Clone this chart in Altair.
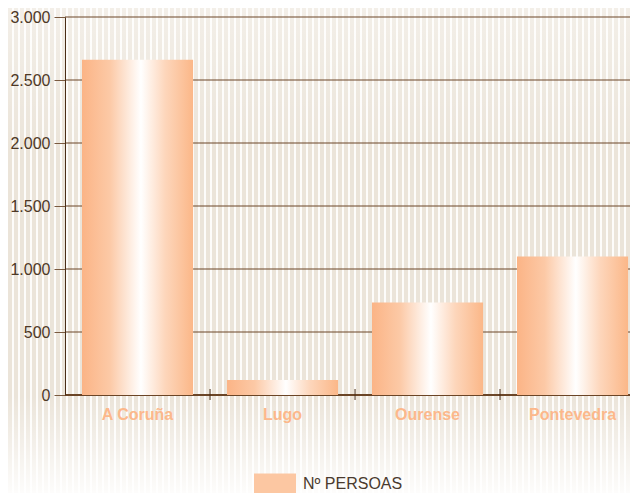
import altair as alt
import pandas as pd

provincias = ["A Coruña", "Lugo", "Ourense", "Pontevedra"]
persoas = [2660, 120, 735, 1100]
y_ticks = [0, 500, 1000, 1500, 2000, 2500, 3000]
serie = ["Nº PERSOAS"]

W, H = 565, 378
PL, PT, PB = 57, 9, 98
FONT = "Liberation Sans"

bars_df = pd.DataFrame({"provincia": provincias, "persoas": persoas})
grid_df = pd.DataFrame({"persoas": y_ticks})
tick_df = pd.DataFrame({"provincia": provincias})
legend_df = pd.DataFrame({"serie": serie})
one_df = pd.DataFrame({"k": [0]})

# striped background gradient
TOT = W + PL
beige, white = "#ebe4d9", "#fdfcfa"
stops = []
n = TOT // 6 + 1
for k in range(n):
    s = min(1.0, k * 6 / TOT)
    a = min(1.0, (k * 6 + 4) / TOT)
    e = min(1.0, (k * 6 + 6) / TOT)
    stops += [alt.GradientStop(offset=s, color=beige), alt.GradientStop(offset=a, color=beige),
              alt.GradientStop(offset=a, color=white), alt.GradientStop(offset=e, color=white)]
stripes = alt.Gradient(gradient="linear", stops=stops, x1=0, x2=1, y1=0, y2=0)
fade = alt.Gradient(gradient="linear", x1=0, x2=0, y1=0, y2=1, stops=[
    alt.GradientStop(offset=0, color="rgba(255,255,255,0.4)"),
    alt.GradientStop(offset=0.3, color="rgba(255,255,255,0)"),
    alt.GradientStop(offset=0.8, color="rgba(255,255,255,0)"),
    alt.GradientStop(offset=0.88, color="rgba(255,255,255,0.35)"),
    alt.GradientStop(offset=1, color="rgba(255,255,255,0.9)"),
])
bar_grad = alt.Gradient(gradient="linear", x1=0, x2=1, y1=0, y2=0, stops=[
    alt.GradientStop(offset=0, color="#fbb486"),
    alt.GradientStop(offset=0.25, color="#fcc9a6"),
    alt.GradientStop(offset=0.53, color="#ffffff"),
    alt.GradientStop(offset=0.75, color="#fdd6bb"),
    alt.GradientStop(offset=1, color="#fbb788"),
])

bg = alt.Chart(one_df).mark_rect(fill=stripes).encode(
    x=alt.value(-PL), x2=alt.value(W), y=alt.value(-PT), y2=alt.value(H + PB))
bg2 = alt.Chart(one_df).mark_rect(fill=fade).encode(
    x=alt.value(-PL), x2=alt.value(W), y=alt.value(-PT), y2=alt.value(H + PB))

PI = 0.234
PO = 0.0653
yscale = alt.Scale(domain=[0, 3000], nice=False)
xscale = alt.Scale(domain=provincias, paddingInner=PI, paddingOuter=PO)
STEP = W / (4 - PI + 2 * PO)
SHIFT = 17 - PO * STEP
HALFGAP = PI * STEP / 2

yaxis = alt.Axis(
    title=None, values=y_ticks, grid=False, tickSize=11, tickColor="#7a5a40",
    domainColor="#4a2d16", domainWidth=1, labelFont=FONT, labelFontSize=16,
    labelColor="#4e3826", labelPadding=4, zindex=1,
    labelExpr="replace(format(datum.value, ','), ',', '.')")

xaxis = alt.Axis(
    title=None, domain=False, ticks=False, labelOffset=SHIFT, labelAngle=0,
    labelFont=FONT, labelFontSize=16, labelFontWeight="bold", labelColor="#fcb88b",
    labelPadding=11, grid=False, zindex=1)

grid = alt.Chart(grid_df).mark_rule(color="#6b4526").encode(
    y=alt.Y("persoas:Q", scale=yscale, axis=yaxis),
    x=alt.value(0), x2=alt.value(W),
    strokeWidth=alt.condition(alt.datum.persoas == 0, alt.value(2), alt.value(1)),
)

bars = alt.Chart(bars_df).mark_bar(color=bar_grad, xOffset=SHIFT).encode(
    x=alt.X("provincia:N", scale=xscale, sort=provincias, axis=xaxis),
    y=alt.Y("persoas:Q", scale=yscale, axis=yaxis),
)

xticks = alt.Chart(tick_df).mark_rule(color="#4a2d16", strokeWidth=1,
                                       xOffset=SHIFT + HALFGAP).encode(
    x=alt.X("provincia:N", scale=xscale, sort=provincias, bandPosition=1, axis=xaxis),
    y=alt.value(H - 6), y2=alt.value(H + 5),
)

leg = alt.Chart(legend_df).mark_bar(opacity=0).encode(
    color=alt.Color("serie:N", scale=alt.Scale(range=["#fcc7a2"]), legend=alt.Legend(
        title=None, orient="none", legendX=189, legendY=446,
        symbolType="M-1,-0.5H1V0.5H-1Z", symbolSize=1764, symbolOpacity=1,
        symbolStrokeWidth=0, labelFont=FONT, labelFontSize=16, labelColor="#4a3a2e",
        labelOffset=7)),
)

chart = alt.layer(bg, bg2, grid, bars, xticks, leg).properties(
    width=W, height=H,
    autosize=alt.AutoSizeParams(type="none"),
    padding={"left": PL, "top": PT, "right": 0, "bottom": PB},
).configure_view(stroke=None)

chart.save("out.html", embed_options={"renderer": "svg", "actions": False})
